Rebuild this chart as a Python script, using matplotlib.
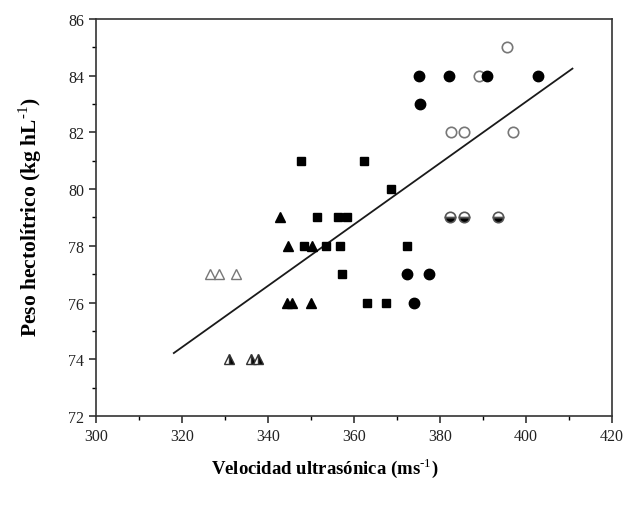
import matplotlib
matplotlib.use("Agg")
import matplotlib.pyplot as plt
from matplotlib.ticker import MultipleLocator

plt.rcParams['font.family'] = ['Liberation Serif', 'DejaVu Serif']
plt.rcParams['mathtext.fontset'] = 'custom'
plt.rcParams['mathtext.rm'] = 'Liberation Serif'
plt.rcParams['mathtext.bf'] = 'Liberation Serif:bold'

# Filled circles
fc_x = [375.0, 382.0, 391.0, 402.8, 375.3, 372.3, 377.5, 373.9]
fc_y = [84, 84, 84, 84, 83, 77, 77, 76]
# Open circles
oc_x = [395.6, 389.0, 382.6, 385.6, 397.0]
oc_y = [85, 84, 82, 82, 82]
# Half-filled circles
hc_x = [382.3, 385.6, 393.4]
hc_y = [79, 79, 79]
# Filled squares
sq_x = [347.7, 362.3, 368.6, 351.5, 356.2, 358.4, 348.3, 353.5, 356.7, 372.3, 357.2, 363.0, 367.4]
sq_y = [81, 81, 80, 79, 79, 79, 78, 78, 78, 78, 77, 76, 76]
# Filled triangles
ft_x = [342.8, 344.7, 350.2, 344.4, 345.6, 350.0]
ft_y = [79, 78, 78, 76, 76, 76]
# Open triangles
ot_x = [326.5, 328.6, 332.6]
ot_y = [77, 77, 77]
# Half-filled triangles
ht_x = [330.9, 336.0, 337.7]
ht_y = [74, 74, 74]
# Regression line endpoints
line_x = [318.1, 410.8]
line_y = [74.22, 84.25]

fig = plt.figure(figsize=(6.25, 5.06), dpi=100)
ax = fig.add_axes([0.1536, 0.1759, 0.8256, 0.7846])

ax.plot(line_x, line_y, color='#1a1a1a', lw=1.3, zorder=2)
ax.plot(sq_x, sq_y, 's', color='black', ms=6.3, ls='none', zorder=3)
ax.plot(ft_x, ft_y, '^', color='black', ms=7.5, ls='none', zorder=3)
ax.plot(ot_x, ot_y, '^', mfc='white', mec='#777777', mew=1.0, ms=7.5, ls='none', zorder=3)
ax.plot(ht_x, ht_y, '^', mfc='black', mfcalt='white', fillstyle='right', mec='#333333', mew=1.0, ms=7.5, ls='none', zorder=3)
ax.plot(oc_x, oc_y, 'o', mfc='white', mec='#777777', mew=1.2, ms=7.5, ls='none', zorder=3)
ax.plot(fc_x, fc_y, 'o', color='black', ms=7.5, ls='none', zorder=4)
ax.plot(hc_x, hc_y, 'o', mfc='black', mfcalt='white', fillstyle='bottom', mec='#555555', mew=1.2, ms=7.5, ls='none', zorder=3)

ax.set_xlim(300, 420)
ax.set_ylim(72, 86)
ax.xaxis.set_major_locator(MultipleLocator(20))
ax.xaxis.set_minor_locator(MultipleLocator(10))
ax.yaxis.set_major_locator(MultipleLocator(2))
ax.yaxis.set_minor_locator(MultipleLocator(1))
ax.tick_params(which='major', direction='out', length=5, width=1.1, labelsize=11.5, colors='#222222')
ax.tick_params(which='minor', direction='out', length=3, width=1.0)
ax.tick_params(top=False, right=False)
for s in ax.spines.values():
    s.set_linewidth(1.2)
    s.set_color('#333333')

fig.text(325/625, 1 - 468/506, 'Velocidad ultrasónica (ms$^{\\text{-}1}$)',
         fontsize=13.5, fontweight='bold', ha='center', va='center')
fig.text(30/625, 1 - 217/506, 'Peso hectolítrico (kg hL$^{\\text{-}1}$)',
         fontsize=15.5, fontweight='bold', ha='center', va='center', rotation=90)

fig.savefig('out.png', dpi=100)
